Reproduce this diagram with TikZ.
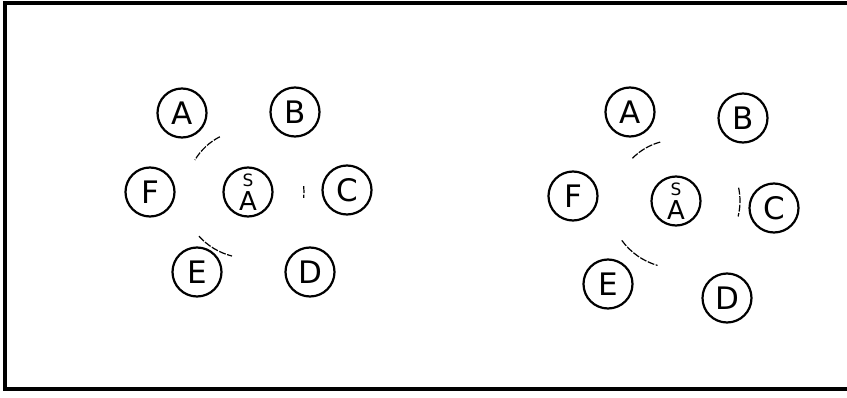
\documentclass[tikz,border=0pt]{standalone}
\usepackage{fontspec}
\setmainfont{DejaVu Sans}
\begin{document}
\begin{tikzpicture}[x=1pt,y=1pt,
  ball/.style={draw,circle,line width=2.2pt,minimum size=49pt,inner sep=0pt,font=\fontsize{31}{31}\selectfont},
  sa/.style={ball,align=center,font=\fontsize{26}{24}\selectfont},
  arcmark/.style={line width=1.2pt,dash pattern=on 7pt off 1.5pt},
  frame/.style={line width=3.2pt}]
\useasboundingbox (0,0) rectangle (847,397);
% frame (open to the right as in the scan)
\coordinate (tr) at (847,394);
\coordinate (tl) at (5,394);
\coordinate (bl) at (5,8);
\coordinate (br) at (847,8);
\draw[frame] (tr) -- (tl) -- (bl) -- (br);
% left group
\node[ball] (lA) at (182,284) {A};
\node[ball] (lB) at (295,285) {B};
\node[ball] (lF) at (150,205) {F};
\node[sa]   (lS) at (248,205) {{\fontsize{17}{17}\selectfont S}\\A};
\node[ball] (lC) at (347,207) {C};
\node[ball] (lE) at (197,125) {E};
\node[ball] (lD) at (310,125) {D};
\draw[arcmark] (lS.center) ++(117:62) arc[start angle=117,end angle=149,radius=62];
\draw[arcmark] (lS.center) ++(6:56) arc[start angle=6,end angle=-6,radius=56];
\draw[arcmark] (lS.center) ++(222:66) arc[start angle=222,end angle=256,radius=66];
% right group
\node[ball] (rA) at (630,285) {A};
\node[ball] (rB) at (743,279) {B};
\node[ball] (rF) at (573,201) {F};
\node[sa]   (rS) at (676,196) {{\fontsize{17}{17}\selectfont S}\\A};
\node[ball] (rC) at (774,189) {C};
\node[ball] (rE) at (608,113) {E};
\node[ball] (rD) at (727,99) {D};
\draw[arcmark] (rS.center) ++(105:61) arc[start angle=105,end angle=136,radius=61];
\draw[arcmark] (rS.center) ++(12:64) arc[start angle=12,end angle=-14,radius=64];
\draw[arcmark] (rS.center) ++(216:67) arc[start angle=216,end angle=254,radius=67];
\end{tikzpicture}
\end{document}
